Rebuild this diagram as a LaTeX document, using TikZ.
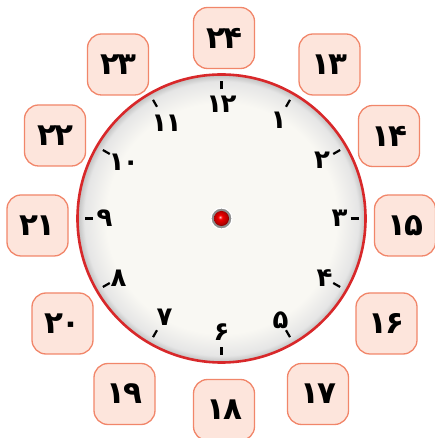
\documentclass[tikz,border=0pt]{standalone}
\usepackage{fontspec}
\newfontfamily\fadigits[Script=Arabic, LetterSpace=-6]{DejaVu Sans}
\definecolor{boxfill}{HTML}{FDE5DC}
\definecolor{boxline}{HTML}{F1866A}
\definecolor{rimred}{HTML}{D8282A}
\definecolor{facewhite}{HTML}{F9F8F3}
\pgfdeclareradialshading{clockface}{\pgfpoint{0bp}{0bp}}{color(0bp)=(facewhite); color(20bp)=(facewhite); color(23.8bp)=(black!10); color(25bp)=(black!25); color(50bp)=(black!25)}
\pgfdeclareradialshading{knob}{\pgfpoint{-5bp}{5bp}}{color(0bp)=(red!25); color(7bp)=(red!95!black); color(22bp)=(red!70!black); color(25bp)=(red!55!black); color(50bp)=(red!55!black)}

\begin{document}
\begin{tikzpicture}[
    x=1pt, y=1pt,
    hourbox/.style={rectangle, rounded corners=14pt, draw=boxline, fill=boxfill, line width=1.3pt, minimum size=61pt, inner sep=0pt, font=\fadigits\bfseries\fontsize{31}{31}\selectfont},
    face/.style={circle, draw=rimred, line width=2.6pt, minimum size=288pt, inner sep=0pt, shading=clockface},
    num/.style={inner sep=0pt, font=\fadigits\bfseries\fontsize{26}{26}\selectfont},
    tick/.style={line width=2.2pt}
]
    \useasboundingbox (0,0) rectangle (434,438);

    % clock face
    \node[face] (face) at (221.5,219.5) {};
    \foreach \a in {0,30,...,330}
        \draw[tick] ([shift={(\a:129)}]face.center) -- ([shift={(\a:137)}]face.center);

    % numbers 1..12
    \node[num] (n12) at ([shift={(90:114)}]face.center) {۱۲};
    \node[num] (n1) at ([shift={(60:114)}]face.center) {۱};
    \node[num] (n2) at ([shift={(30:116)}]face.center) {۲};
    \node[num] (n3) at ([shift={(0:118)}]face.center) {۳};
    \node[num] (n4) at ([shift={(-30:119)}]face.center) {۴};
    \node[num] (n5) at ([shift={(-60:118)}]face.center) {۵};
    \node[num] (n6) at ([shift={(-90:114)}]face.center) {۶};
    \node[num] (n7) at ([shift={(-120:114)}]face.center) {۷};
    \node[num] (n8) at ([shift={(-150:119)}]face.center) {۸};
    \node[num] (n9) at ([shift={(180:117)}]face.center) {۹};
    \node[num] (n10) at ([shift={(150:113)}]face.center) {۱۰};
    \node[num] (n11) at ([shift={(120:110)}]face.center) {۱۱};

    % centre knob
    \node[circle, fill=black!45, draw=white, line width=1.2pt, minimum size=21pt, inner sep=0pt] (ring) at (face.center) {};
    \node[circle, shading=knob, minimum size=15pt, inner sep=0pt] (knob) at (face.center) {};

    % hours 13..24
    \node[hourbox] (h24) at (224,400) {۲۴};
    \node[hourbox] (h13) at (329.5,373.5) {۱۳};
    \node[hourbox] (h14) at (389,302) {۱۴};
    \node[hourbox] (h15) at (405,212.5) {۱۵};
    \node[hourbox] (h16) at (386.5,114.5) {۱۶};
    \node[hourbox] (h17) at (318,44) {۱۷};
    \node[hourbox] (h18) at (224,28) {۱۸};
    \node[hourbox] (h19) at (124.5,44) {۱۹};
    \node[hourbox] (h20) at (62.5,114.5) {۲۰};
    \node[hourbox] (h21) at (37.5,212.5) {۲۱};
    \node[hourbox] (h22) at (55,302.5) {۲۲};
    \node[hourbox] (h23) at (118,373.5) {۲۳};
\end{tikzpicture}
\end{document}
